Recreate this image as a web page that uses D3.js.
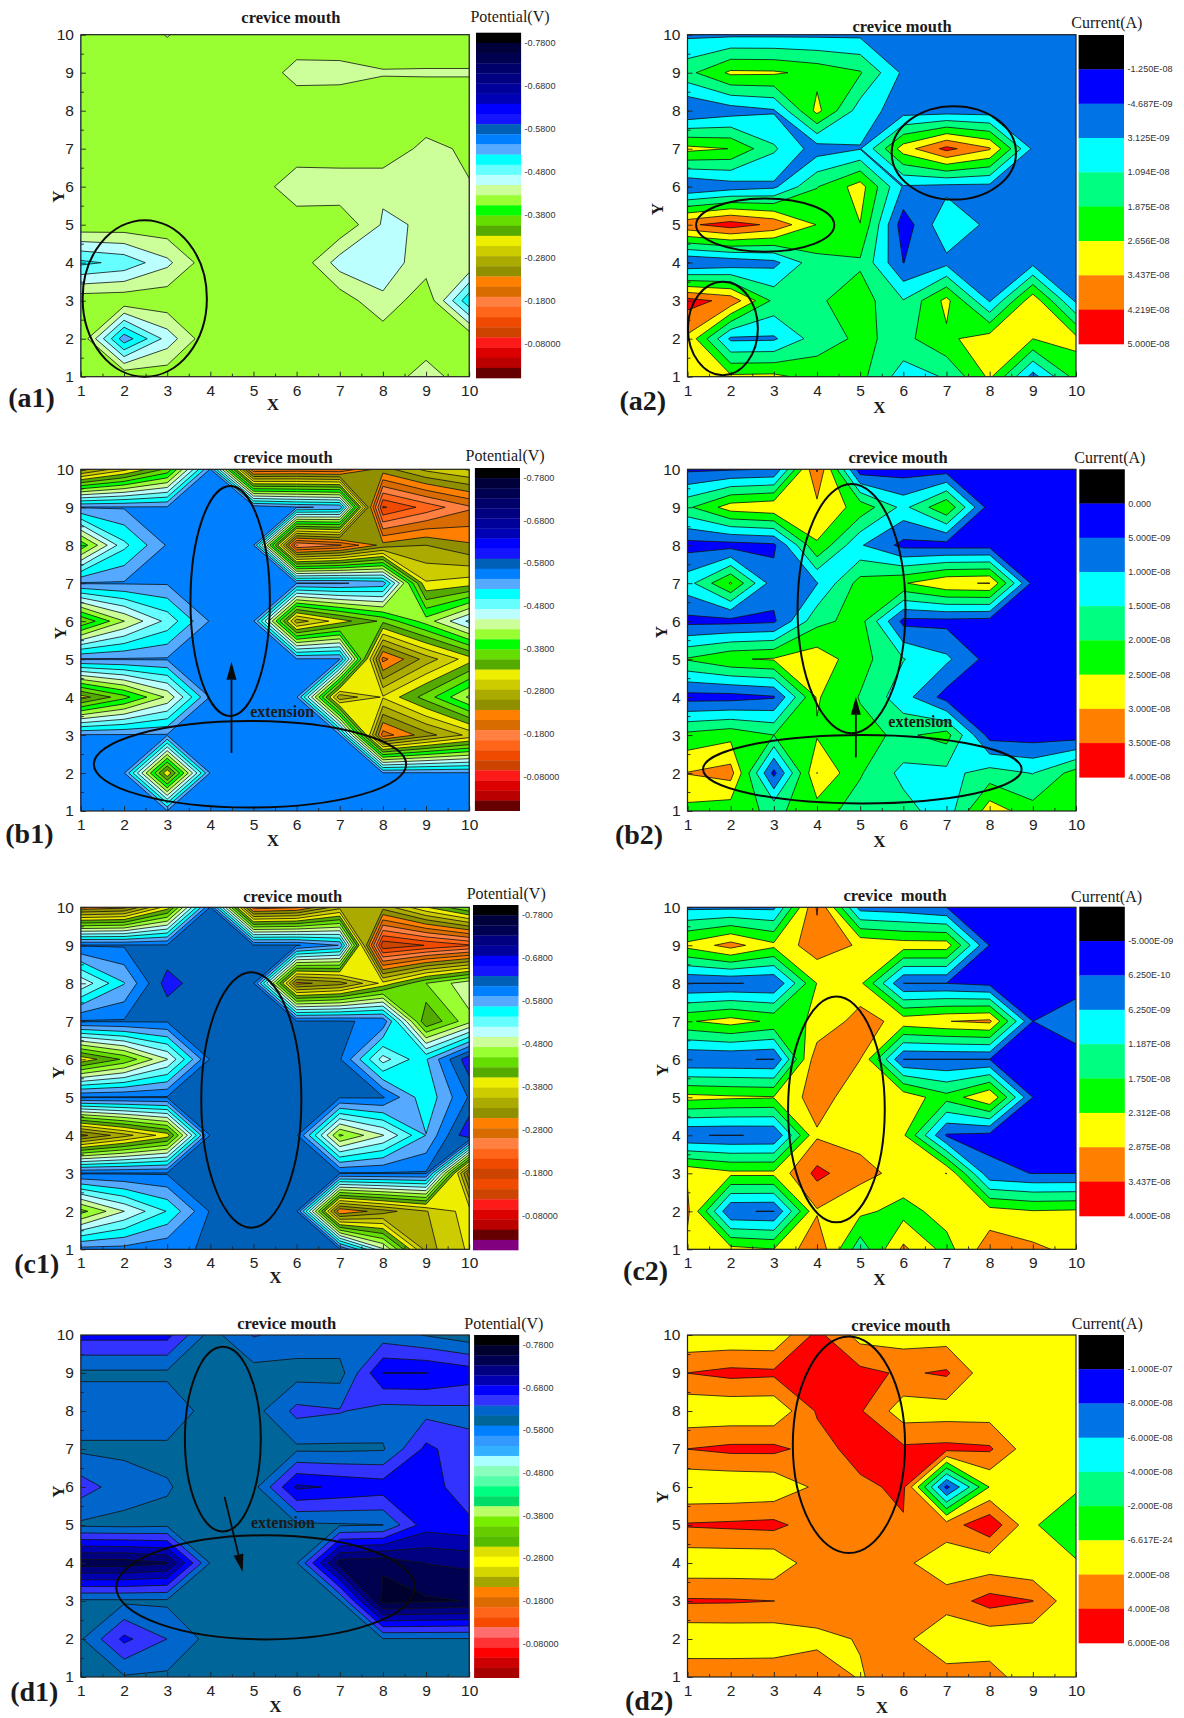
<!DOCTYPE html>
<html>
<head>
<meta charset="utf-8">
<script src="https://cdn.jsdelivr.net/npm/d3@7"></script>
<style>
    body { margin: 0; background: #fff; }
    text { fill: #1a1a1a; }
    .tick text { font-family: "Liberation Sans", Arial, sans-serif; font-size: 15.5px; fill: #222; }
    .serif { font-family: "Liberation Serif", "Times New Roman", serif; }
    .bar-label { font-family: "Liberation Sans", Arial, sans-serif; font-size: 9.1px; fill: #333; }
</style>
</head>
<body>
<svg id="chart" width="1184" height="1718"></svg>
<script>
// Potential in volts, current in units of 1e-8 A.
const potentialA = [
    [-.426, -.405, -.427, -.405, -.405, -.405, -.405, -.405, -.405, -.405],
    [-.405, -.405, -.405, -.405, -.404, -.436, -.435, -.4275, -.428, -.428],
    [-.405, -.405, -.405, -.405, -.405, -.405, -.405, -.405, -.405, -.405],
    [-.405, -.405, -.405, -.405, -.405, -.405, -.405, -.405, -.434, -.42],
    [-.405, -.405, -.405, -.405, -.405, -.447, -.445, -.445, -.445, -.427],
    [-.407, -.409, -.408, -.405, -.405, -.405, -.405, -.452, -.447, -.44],
    [-.502, -.49, -.455, -.408, -.405, -.405, -.461, -.458, -.44, -.426],
    [-.408, -.407, -.408, -.405, -.405, -.405, -.41, -.446, -.405, -.515],
    [-.405, -.535, -.463, -.405, -.405, -.405, -.405, -.408, -.405, -.404],
    [-.405, -.403, -.409, -.405, -.405, -.405, -.405, -.405, -.441, -.405]
];
const currentA = [
    [.16, .16, .16, .16, .16, -.08, -.08, -.08, -.08, -.08],
    [1.64, 2.81, 2.77, 2.42, 1.95, .16, -.08, -.08, -.08, -.08],
    [-.48, -.08, .23, 2.89, .70, -.08, -.08, -.08, -.08, -.08],
    [2.89, 2.64, 1.21, -.08, .27, 3.05, 4.45, 3.52, .16, -.08],
    [-.48, -.08, .16, 1.84, 3.01, .23, .08, .08, -.08, -.08],
    [4.06, 4.61, 4.03, 2.62, 2.64, -.94, .94, .12, -.08, -.08],
    [-.48, -.23, .08, 1.64, 1.76, -.48, .10, 0, .08, -.08],
    [4.53, 3.98, 1.68, 1.76, 2.27, 1.13, 2.89, .23, 3.20, .16],
    [3.28, .16, .20, 1.48, 2.03, 1.64, 2.50, 3.05, 2.66, 2.89],
    [2.73, 2.81, 2.85, 2.34, 2.11, .70, 1.17, 2.81, 0, 2.19]
];
const potentialB = [
    [-.25, -.30, -.36, -.546, -.19, -.195, -.19, -.25, -.29, -.31],
    [-.546, -.546, -.546, -.546, -.558, -.546, -.54, -.115, -.15, -.185],
    [-.385, -.49, -.546, -.546, -.546, -.165, -.187, -.245, -.26, -.24],
    [-.546, -.546, -.546, -.546, -.546, -.546, -.546, -.535, -.31, -.32],
    [-.355, -.425, -.48, -.546, -.546, -.27, -.32, -.36, -.413, -.478],
    [-.546, -.546, -.546, -.546, -.546, -.546, -.546, -.205, -.27, -.32],
    [-.32, -.37, -.43, -.546, -.546, -.546, -.265, -.31, -.365, -.43],
    [-.546, -.546, -.546, -.546, -.546, -.546, -.546, -.2, -.25, -.29],
    [-.546, -.546, -.31, -.546, -.546, -.546, -.546, -.546, -.546, -.546],
    [-.546, -.546, -.546, -.546, -.546, -.546, -.546, -.546, -.546, -.546]
];
const currentB = [
    [.4, .45, .52, 3.55, .2, .25, .25, .25, .25, .25],
    [1.9, 2.75, 2.9, 2.85, 2.33, 1.35, 2.45, .25, .25, .25],
    [.3, .3, .4, 2.45, 1.05, .35, .3, .3, .25, .25],
    [1.3, 2.55, .7, .97, 2.2, 2.45, 2.95, 3.02, .35, .25],
    [.35, .35, .42, 1.85, 2.2, .35, .35, .3, .25, .25],
    [2.05, 2.45, 2.55, 2.8, 2.2, 1.52, 1.1, .3, .25, .25],
    [.3, .3, .45, 2.55, 1.97, 1.2, .3, .25, .25, .25],
    [2.15, 2.35, 2.0, 2.45, 2.15, 1.9, 2.2, .3, .25, .25],
    [3.02, 3.2, .35, 3.01, 2.05, 1.35, 1.35, 1.7, 1.48, 2.2],
    [2.35, 2.2, 1.9, 2.25, 1.75, 1.7, 1.2, 2.8, 2.2, 2.3]
];
const potentialC = [
    [-.29, -.30, -.39, -.617, -.27, -.28, -.345, -.34, -.40, -.45],
    [-.617, -.617, -.617, -.617, -.617, -.617, -.59, -.17, -.19, -.21],
    [-.502, -.566, -.65, -.617, -.617, -.30, -.32, -.385, -.449, -.49],
    [-.617, -.617, -.617, -.617, -.617, -.617, -.617, -.61, -.402, -.465],
    [-.385, -.43, -.495, -.617, -.617, -.617, -.617, -.51, -.565, -.655],
    [-.617, -.617, -.617, -.617, -.617, -.617, -.617, -.617, -.55, -.617],
    [-.30, -.345, -.39, -.617, -.617, -.617, -.445, -.495, -.568, -.66],
    [-.617, -.617, -.617, -.617, -.617, -.617, -.617, -.617, -.617, -.29],
    [-.44, -.496, -.545, -.617, -.617, -.617, -.285, -.32, -.353, -.39],
    [-.6, -.6, -.61, -.617, -.617, -.617, -.617, -.50, -.345, -.382]
];
const currentC = [
    [.5, .5, .5, 3.5, .4, .3, .06, -.1, -.1, -.1],
    [2.5, 3.1, 2.45, 3.2, 2.8, 2.6, 2.6, .03, -.1, -.1],
    [.055, .055, .08, 2.33, 2.45, .06, .06, -.1, -.1, -.1],
    [2.25, 2.55, 2.2, 2.35, 3.15, 2.65, 2.86, 3.0, .06, .3],
    [.07, .08, .05, 3.3, 2.88, .055, .055, .055, -.1, -.1],
    [2.5, 2.4, 2.35, 3.15, 2.5, 2.7, 1.95, 2.87, .06, -.1],
    [.07, .055, .08, 2.8, 2.7, 2.4, 0, -.1, -.1, -.1],
    [2.8, 2.45, 2.45, 3.6, 3.05, 2.7, 2.88, .2, .05, .05],
    [3.0, .08, .05, 2.82, 2.45, 2.1, 2.55, 2.55, 2.35, 2.4],
    [2.7, 2.5, 2.33, 3.3, 1.4, 3.0, 2.1, 3.2, 3.0, 2.7]
];
const potentialD = [
    [-.67, -.67, -.67, -.605, -.64, -.63, -.63, -.625, -.613, -.6],
    [-.61, -.61, -.61, -.605, -.605, -.605, -.605, -.686, -.686, -.675],
    [-.63, -.63, -.63, -.605, -.605, -.645, -.64, -.628, -.63, -.632],
    [-.61, -.61, -.61, -.605, -.605, -.61, -.61, -.612, -.668, -.645],
    [-.65, -.625, -.616, -.605, -.606, -.69, -.682, -.675, -.675, -.645],
    [-.61, -.608, -.61, -.605, -.605, -.61, -.612, -.614, -.675, -.668],
    [-.745, -.745, -.735, -.613, -.605, -.613, -.745, -.752, -.732, -.728],
    [-.61, -.61, -.61, -.605, -.605, -.605, -.613, -.765, -.76, -.7555],
    [-.612, -.668, -.638, -.606, -.605, -.605, -.605, -.613, -.613, -.613],
    [-.605, -.612, -.61, -.605, -.605, -.605, -.605, -.605, -.605, -.605]
];
const currentD = [
    [.3, .3, .3, 4.6, 1.2, 1, 1, 1, 1, 1],
    [4.02, 4.6, 4.4, 5.2, 4.6, 3.7, 4.3, .5, 1, 1],
    [.4, .4, .4, 4.2, 4.2, .9, 1, 1, 1, 1],
    [4.02, 4.5, 4.5, 3.2, 4.8, 4.4, 4.6, 4.3, .5, 1],
    [.2, .2, .4, 2.4, 3.6, 4.4, -8.6, .1, 1, .4],
    [4.2, 4.4, 4.6, 2.8, 3.5, 3.8, 3, 5.5, .3, -2.01],
    [.5, .5, .5, 3.3, 3.5, 2.4, .8, .8, .3, .25],
    [4.25, 4.2, 4.01, 3.5, 3.5, 3.5, 2.9, 4.8, 4.05, .3],
    [.3, .4, .5, 1.4, 2.15, 2.5, .4, .6, .5, 1],
    [3.6, 3.5, 3.5, 3.5, 1.8, 3.5, 2.86, 3, .5, 1]
];

// Contour levels and tick labels of the colour bars
const potentialLevels = d3.range(33).map(k => -0.78 + k * 0.0236364);
const potentialTicks = [-0.78, -0.68, -0.58, -0.48, -0.38, -0.28, -0.18, -0.08];
const potentialTickLabels = ['-0.7800', '-0.6800', '-0.5800', '-0.4800', '-0.3800', '-0.2800', '-0.1800', '-0.08000'];

const levelsA2 = [-1.25, -0.4687, 0.3125, 1.094, 1.875, 2.656, 3.437, 4.219];
const labelsA2 = ['-1.250E-08', '-4.687E-09', '3.125E-09', '1.094E-08', '1.875E-08', '2.656E-08', '3.437E-08', '4.219E-08', '5.000E-08'];
const levelsB2 = [0, 0.5, 1, 1.5, 2, 2.5, 3, 3.5];
const labelsB2 = ['0.000', '5.000E-09', '1.000E-08', '1.500E-08', '2.000E-08', '2.500E-08', '3.000E-08', '3.500E-08', '4.000E-08'];
const levelsC2 = [-0.5, 0.0625, 0.625, 1.187, 1.75, 2.312, 2.875, 3.437];
const labelsC2 = ['-5.000E-09', '6.250E-10', '6.250E-09', '1.187E-08', '1.750E-08', '2.312E-08', '2.875E-08', '3.437E-08', '4.000E-08'];
const levelsD2 = [-10, -8, -6, -4, -2, 0, 2, 4];
const labelsD2 = ['-1.000E-07', '-8.000E-08', '-6.000E-08', '-4.000E-08', '-2.000E-08', '-6.617E-24', '2.000E-08', '4.000E-08', '6.000E-08'];

// Colour maps, most negative band first
const navy = ['#000000', '#00003a', '#000050', '#00006a', '#000080', '#00009a', '#0000b5'];
const potentialColors = navy.concat(['#0000ff', '#1414ff', '#0060b8', '#0080ff', '#55aaff', '#00ffff', '#66ffff', '#bbffff', '#ccff99', '#99ff33',
    '#00ff00', '#66dd00', '#55aa00', '#eeee00', '#cccc00', '#aaaa00', '#8f8f00', '#ff8000', '#d96c00', '#ff8040', '#ff6619', '#f04a00', '#cc4400',
    '#ff1a1a', '#dd0000', '#bb0000', '#660000']);
const potentialColorsC = ['#000000', '#00003a', '#000050', '#000080', '#00009a', '#0000ff', '#1414ff', '#0060b8', '#0080ff', '#55aaff', '#00ffff', '#66ffff',
    '#bbffff', '#ccff99', '#99ff33', '#66dd00', '#55aa00', '#eeee00', '#cccc00', '#aaaa00', '#8f8f00', '#ff8000', '#d96c00', '#ff8040', '#ff6619', '#f04a00',
    '#cc4400', '#f04a00', '#cc4400', '#ff1a1a', '#dd0000', '#bb0000', '#660000', '#800080'];
const potentialColorsD = ['#000000', '#00002f', '#000050', '#000080', '#0000b0', '#0000ff', '#3333ff', '#0066cc', '#006699', '#0080ff', '#3399ff', '#33b0ff',
    '#aaffff', '#88ffbb', '#55ffaa', '#00ff80', '#00dd66', '#bbff66', '#77ee00', '#66cc00', '#55bb00', '#e0e000', '#ffff00', '#d5d500', '#a5a500', '#ff8000',
    '#dd6c00', '#ff6619', '#f54a00', '#ff6e6e', '#ff3333', '#ff0000', '#cc0000', '#a80000'];
const currentColors = ['#000000', '#0000ff', '#0073e6', '#00ffff', '#00ff80', '#00ff00', '#ffff00', '#ff8000', '#ff0000'];

const gridTicks = d3.range(1, 11);
const minorTicks = d3.range(1.5, 10, 1);

const panels = [
    { id: 'a1', grid: potentialA, levels: potentialLevels, colors: potentialColors, title: 'crevice mouth', legend: 'Potential(V)',
      box: [80.9, 469.2, 34.7, 376.7], bar: [476, 521.1, 32.7, 378], titleAt: [290.9, 22.7], legendAt: [510, 21.7], tagAt: [8.3, 407], xAt: [272.8, 410], yAt: [58.3, 196.7],
      ellipses: [[2.48, 3.06, 1.44, 2.06]] },
    { id: 'a2', grid: currentA, levels: levelsA2, colors: currentColors, labels: labelsA2, title: 'crevice mouth', legend: 'Current(A)',
      box: [687.5, 1076, 34.7, 376.7], bar: [1078.6, 1124, 35, 344], titleAt: [902, 31.7], legendAt: [1106.9, 28], tagAt: [619.4, 410], xAt: [879.3, 412.7], yAt: [657.7, 209],
      ellipses: [[7.17, 6.89, 1.44, 1.23], [2.8, 4.99, 1.6, 0.7], [1.82, 2.27, 0.81, 1.23]] },
    { id: 'b1', grid: potentialB, levels: potentialLevels, colors: potentialColors, title: 'crevice mouth', legend: 'Potential(V)',
      box: [80.9, 469.2, 469.3, 811], bar: [474.9, 520, 468, 810.7], titleAt: [283, 463.3], legendAt: [505.1, 460.7], tagAt: [5.3, 842.7], xAt: [272.8, 846], yAt: [60.2, 633],
      ellipses: [[4.46, 6.53, 0.92, 3.03], [4.92, 2.23, 3.62, 1.14]], arrow: [4.49, 2.53, 4.49, 4.93], note: [282.2, 716.7] },
    { id: 'b2', grid: currentB, levels: levelsB2, colors: currentColors, labels: labelsB2, title: 'crevice mouth', legend: 'Current(A)',
      box: [687.5, 1076, 469.3, 811], bar: [1079.3, 1124.8, 469.3, 777.3], titleAt: [898, 463.3], legendAt: [1109.9, 462.7], tagAt: [614.9, 844], xAt: [879.3, 847], yAt: [661.5, 632],
      ellipses: [[4.8, 6.33, 1.25, 3.28], [5.05, 2.1, 3.69, 0.9]], arrow: [4.9, 2.41, 4.9, 4.01], note: [920.3, 726.7] },
    { id: 'c1', grid: potentialC, levels: potentialLevels, colors: potentialColorsC, title: 'crevice mouth', legend: 'Potential(V)',
      box: [80.9, 469.2, 907.3, 1249.3], bar: [473, 518.5, 905, 1250], titleAt: [292.7, 902.3], legendAt: [506.2, 899.3], tagAt: [14.3, 1273], xAt: [275.4, 1283], yAt: [58.3, 1072.7],
      ellipses: [[4.95, 4.93, 1.16, 3.36]] },
    { id: 'c2', grid: currentC, levels: levelsC2, colors: currentColors, labels: labelsC2, title: 'crevice  mouth', legend: 'Current(A)',
      box: [687.5, 1076, 907.3, 1249.3], bar: [1079.3, 1124.8, 906.7, 1216], titleAt: [895, 901], legendAt: [1106.5, 901.7], tagAt: [623.1, 1280], xAt: [879.3, 1285], yAt: [662.2, 1070],
      ellipses: [[4.45, 4.68, 1.12, 2.97]] },
    { id: 'd1', grid: potentialD, levels: potentialLevels, colors: potentialColorsD, title: 'crevice mouth', legend: 'Potential(V)',
      box: [80.9, 469.2, 1335, 1677], bar: [474.1, 519.2, 1335, 1677.7], titleAt: [286.7, 1329.3], legendAt: [503.9, 1329.3], tagAt: [10.2, 1701], xAt: [275.4, 1711.7], yAt: [58.3, 1491.7],
      ellipses: [[4.29, 7.26, 0.88, 2.43], [5.28, 3.36, 3.46, 1.37]], arrow: [4.33, 5.74, 4.75, 3.76], note: [282.9, 1528] },
    { id: 'd2', grid: currentD, levels: levelsD2, colors: currentColors, labels: labelsD2, title: 'crevice mouth', legend: 'Current(A)',
      box: [687.5, 1076, 1335, 1677], bar: [1078.6, 1124, 1335, 1643], titleAt: [900.9, 1330.7], legendAt: [1107.3, 1329.3], tagAt: [625, 1710], xAt: [881.9, 1713], yAt: [662.2, 1497],
      ellipses: [[4.74, 7.11, 1.3, 2.85]] }
];

const svg = d3.select('#chart');

function drawPanel(p) {
    const [left, right, top, bottom] = p.box;
    const x = d3.scaleLinear().domain([1, 10]).range([left, right]);
    const y = d3.scaleLinear().domain([1, 10]).range([bottom, top]);
    const g = svg.append('g').attr('class', 'panel-' + p.id);

    g.append('clipPath').attr('id', 'clip-' + p.id)
        .append('rect')
            .attr('x', left).attr('y', top)
            .attr('width', right - left).attr('height', bottom - top);

    // d3.contours puts grid value i at i + 0.5, so shift back to the 1..10 data range
    const path = d3.geoPath(d3.geoTransform({
        point(px, py) {
            this.stream.point(x(px + 0.5), y(py + 0.5));
        }
    }));

    // Contours want the first row at Y=1
    const values = p.grid.slice().reverse().flat();
    const contours = d3.contours().size([10, 10]).thresholds(p.levels)(values);

    const plot = g.append('g').attr('clip-path', 'url(#clip-' + p.id + ')');
    plot.append('rect')
        .attr('x', left).attr('y', top)
        .attr('width', right - left).attr('height', bottom - top)
        .attr('fill', p.colors[0]);
    plot.selectAll('path').data(contours).join('path')
        .attr('d', path)
        .attr('fill', (d, i) => p.colors[i + 1])
        .attr('stroke', d => d.coordinates.length ? '#111' : 'none')
        .attr('stroke-width', 0.8)
        .attr('stroke-linejoin', 'round');

    // Axes, ticks point into the plot
    const xAxis = g.append('g').attr('transform', 'translate(0,' + bottom + ')');
    xAxis.call(d3.axisBottom(x).tickValues(gridTicks).tickFormat(d3.format('d')).tickSize(-5).tickPadding(8));
    const xMinor = g.append('g').attr('transform', 'translate(0,' + bottom + ')');
    xMinor.call(d3.axisBottom(x).tickValues(minorTicks).tickFormat('').tickSize(-3));
    const yAxis = g.append('g').attr('transform', 'translate(' + left + ',0)');
    yAxis.call(d3.axisLeft(y).tickValues(gridTicks).tickFormat(d3.format('d')).tickSize(-5).tickPadding(7));
    const yMinor = g.append('g').attr('transform', 'translate(' + left + ',0)');
    yMinor.call(d3.axisLeft(y).tickValues(minorTicks).tickFormat('').tickSize(-3));
    g.selectAll('.domain').remove();
    g.selectAll('.tick line').attr('stroke', '#222').attr('stroke-width', 0.9);

    g.append('rect')
        .attr('x', left).attr('y', top)
        .attr('width', right - left).attr('height', bottom - top)
        .attr('fill', 'none').attr('stroke', '#222').attr('stroke-width', 1.2);

    // Circled regions and arrows
    g.selectAll('ellipse').data(p.ellipses).join('ellipse')
        .attr('cx', d => x(d[0])).attr('cy', d => y(d[1]))
        .attr('rx', d => x(d[2]) - x(0)).attr('ry', d => y(0) - y(d[3]))
        .attr('fill', 'none').attr('stroke', '#0a0a0a').attr('stroke-width', 2);

    if (p.arrow) {
        const [x1, y1, x2, y2] = [x(p.arrow[0]), y(p.arrow[1]), x(p.arrow[2]), y(p.arrow[3])];
        const angle = Math.atan2(y2 - y1, x2 - x1);
        const headLength = 18, headWidth = 5;
        const baseX = x2 - headLength * Math.cos(angle), baseY = y2 - headLength * Math.sin(angle);
        g.append('line')
            .attr('x1', x1).attr('y1', y1).attr('x2', baseX).attr('y2', baseY)
            .attr('stroke', '#0a0a0a').attr('stroke-width', 1.8);
        g.append('path')
            .attr('d', 'M' + x2 + ',' + y2
                + 'L' + (baseX - headWidth * Math.sin(angle)) + ',' + (baseY + headWidth * Math.cos(angle))
                + 'L' + (baseX + headWidth * Math.sin(angle)) + ',' + (baseY - headWidth * Math.cos(angle)) + 'Z')
            .attr('fill', '#0a0a0a');
        g.append('text').attr('class', 'serif')
            .attr('x', p.note[0]).attr('y', p.note[1])
            .attr('text-anchor', 'middle').attr('font-size', 16).attr('font-weight', 'bold')
            .text('extension');
    }

    drawBar(g, p);

    // Texts
    g.append('text').attr('class', 'serif')
        .attr('x', p.titleAt[0]).attr('y', p.titleAt[1])
        .attr('text-anchor', 'middle').attr('font-size', 16.5).attr('font-weight', 'bold')
        .style('white-space', 'pre')
        .text(p.title);
    g.append('text').attr('class', 'serif')
        .attr('x', p.legendAt[0]).attr('y', p.legendAt[1])
        .attr('text-anchor', 'middle').attr('font-size', 16)
        .text(p.legend);
    g.append('text').attr('class', 'serif')
        .attr('x', p.tagAt[0]).attr('y', p.tagAt[1])
        .attr('font-size', 28).attr('font-weight', 'bold')
        .text('(' + p.id + ')');
    g.append('text').attr('class', 'serif')
        .attr('x', p.xAt[0]).attr('y', p.xAt[1])
        .attr('text-anchor', 'middle').attr('font-size', 17).attr('font-weight', 'bold')
        .text('X');
    g.append('text').attr('class', 'serif')
        .attr('transform', 'translate(' + p.yAt[0] + ',' + p.yAt[1] + ') rotate(-90)')
        .attr('text-anchor', 'middle').attr('dominant-baseline', 'central')
        .attr('font-size', 17).attr('font-weight', 'bold')
        .text('Y');
}

function drawBar(g, p) {
    const [left, right, top, bottom] = p.bar;
    const bandCount = p.colors.length;
    const band = d3.scaleBand().domain(d3.range(bandCount)).range([top, bottom]);

    g.selectAll('rect.band').data(p.colors).join('rect')
        .attr('class', 'band')
        .attr('x', left).attr('width', right - left)
        .attr('y', (d, i) => band(i)).attr('height', band.bandwidth() + 0.3)
        .attr('fill', d => d);

    if (p.labels) {
        // One label per band edge, the last one closes the bar
        const edge = d3.scaleLinear().domain([0, bandCount]).range([top, bottom]);
        g.selectAll('text.bar-label').data(p.labels).join('text')
            .attr('class', 'bar-label')
            .attr('x', right + 3.5).attr('y', (d, i) => edge(i + 1))
            .attr('dominant-baseline', 'central')
            .text(d => d);
    } else {
        const step = potentialLevels[1] - potentialLevels[0];
        const volts = d3.scaleLinear()
            .domain([potentialLevels[0] - step, potentialLevels[0] - step + step * bandCount])
            .range([top, bottom]);
        g.selectAll('text.bar-label').data(potentialTicks).join('text')
            .attr('class', 'bar-label')
            .attr('x', right + 3.5).attr('y', d => volts(d))
            .attr('dominant-baseline', 'central')
            .text((d, i) => potentialTickLabels[i]);
    }
}

panels.forEach(drawPanel);
</script>
</body>
</html>
